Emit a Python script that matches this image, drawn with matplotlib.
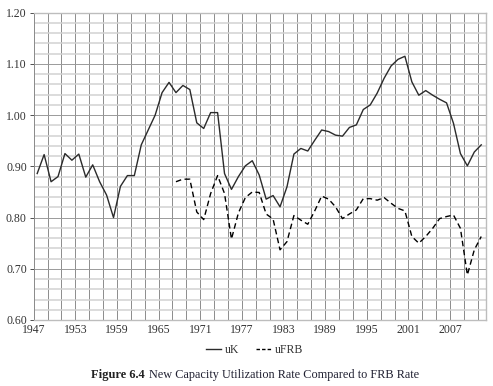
import numpy as np
import matplotlib
matplotlib.use("Agg")
import matplotlib.pyplot as plt

# Annual data, 1947-2011
years = list(range(1947, 2012))
uK = [0.886, 0.923, 0.870, 0.880, 0.925, 0.912, 0.924, 0.879, 0.903, 0.870,
      0.844, 0.800, 0.861, 0.882, 0.882, 0.942, 0.971, 1.000, 1.044, 1.064,
      1.044, 1.058, 1.050, 0.985, 0.974, 1.005, 1.005, 0.886, 0.855, 0.880,
      0.901, 0.911, 0.883, 0.836, 0.843, 0.821, 0.860, 0.924, 0.935, 0.930,
      0.951, 0.971, 0.968, 0.961, 0.959, 0.976, 0.981, 1.011, 1.020, 1.043,
      1.072, 1.096, 1.109, 1.115, 1.065, 1.039, 1.048, 1.039, 1.031, 1.024,
      0.984, 0.925, 0.901, 0.928, 0.942]
# uFRB starts in 1967
frb_years = list(range(1967, 2012))
uFRB = [0.870, 0.875, 0.875, 0.811, 0.796, 0.847, 0.882, 0.847, 0.758, 0.809,
        0.839, 0.850, 0.849, 0.807, 0.797, 0.737, 0.753, 0.804, 0.795, 0.787,
        0.813, 0.842, 0.836, 0.821, 0.798, 0.807, 0.815, 0.837, 0.837, 0.834,
        0.839, 0.828, 0.818, 0.813, 0.763, 0.750, 0.763, 0.779, 0.798, 0.802,
        0.805, 0.779, 0.688, 0.737, 0.763]
tick_years = list(range(1947, 2012, 6))
yticks = [0.60, 0.70, 0.80, 0.90, 1.00, 1.10, 1.20]

plt.rcParams['font.family'] = ['Liberation Serif', 'DejaVu Serif']

fig = plt.figure(figsize=(4.93, 3.86), dpi=100)
ax = fig.add_axes([0.0684, 0.171, 0.9176, 0.796])

# category axis: each year sits in the middle of its slot
x_uk = [y - years[0] + 0.5 for y in years]
x_frb = [y - years[0] + 0.5 for y in frb_years]

# grid
for gx in range(0, 66, 2):
    ax.axvline(gx, color='#8c8c8c', lw=0.7, zorder=1)
for gy in np.arange(0.60, 1.2001, 0.02):
    major = abs(round(gy * 10) - gy * 10) < 1e-6
    ax.axhline(gy, color='#9a9a9a' if major else '#d2d2d2',
               lw=0.7 if major else 1.1, zorder=1)

ax.plot(x_uk, uK, color='#2b2b2b', lw=1.0, label='uK', zorder=3)
ax.plot(x_frb, uFRB, color='black', lw=1.0, ls=(0, (4, 2.5)), label='uFRB', zorder=3)

ax.set_xlim(0, 65.2)
ax.set_ylim(0.60, 1.20)
ax.set_xticks([y - years[0] for y in tick_years])
ax.set_xticklabels([str(y) for y in tick_years])
ax.set_yticks(yticks)
ax.set_yticklabels([f'{v:.2f}' for v in yticks])
ax.tick_params(axis='both', labelsize=8.5, colors='#333333', length=3,
               width=0.6, pad=2)
ax.tick_params(axis='x', length=0, pad=3)
for s in ax.spines.values():
    s.set_color('#bdbdbd')
    s.set_linewidth(1.0)
ax.spines['left'].set_color('#8c8c8c')
ax.spines['left'].set_linewidth(0.7)

handles, labels = ax.get_legend_handles_labels()
leg = fig.legend(handles, labels, loc='center', bbox_to_anchor=(0.516, 0.094),
                 ncol=2, frameon=False, fontsize=8.5, handlelength=1.3,
                 columnspacing=1.4, handletextpad=0.3, labelcolor='#333333')
leg.get_lines()[1].set_linestyle((0, (2.5, 1.5)))

# caption: bold label followed by normal text
t1 = fig.text(91 / 493, 0.028, 'Figure 6.4', fontsize=9, fontweight='bold',
              color='#222222', ha='left', va='center')
fig.canvas.draw()
bb = t1.get_window_extent()
fig.text((bb.x1 + 4) / 493, 0.028,
         'New Capacity Utilization Rate Compared to FRB Rate',
         fontsize=8.8, color='#222233', ha='left', va='center')

fig.savefig('out.png', dpi=100)
